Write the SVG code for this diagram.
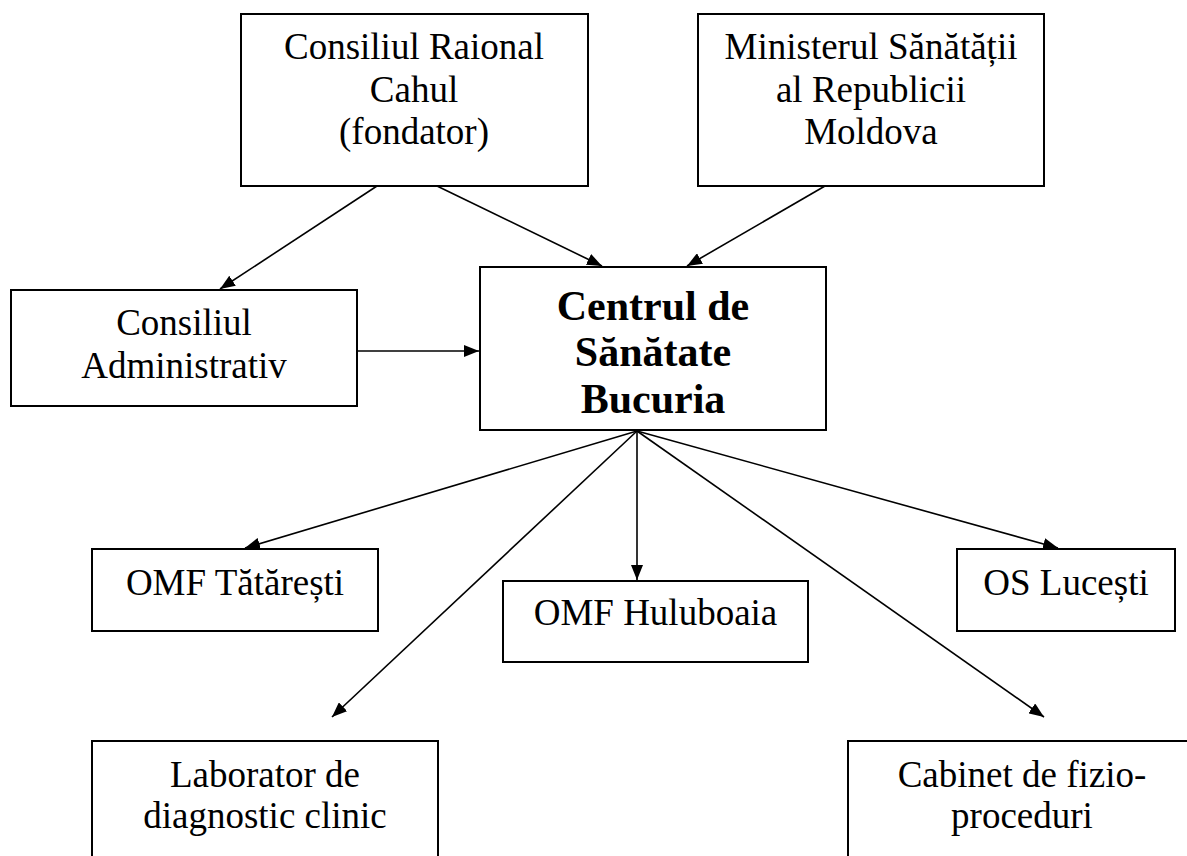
<svg xmlns="http://www.w3.org/2000/svg" width="1187" height="856" viewBox="0 0 1187 856">
<style>
.box{fill:#fff;stroke:#000;stroke-width:2}
.t{font-family:"Liberation Serif","Times New Roman",serif;font-size:37px;fill:#000;text-anchor:middle}
.b{font-family:"Liberation Serif","Times New Roman",serif;font-size:42px;font-weight:bold;fill:#000;text-anchor:middle}
.c{stroke:#000;stroke-width:1.6;fill:none;marker-end:url(#ah)}
</style>
<defs>
<marker id="ah" markerUnits="userSpaceOnUse" markerWidth="16" markerHeight="12" refX="15" refY="6" orient="auto">
<path d="M0,0 L15,6 L0,12 z" fill="#000"/>
</marker>
</defs>
<rect width="1187" height="856" fill="#fff"/>
<g id="connectors">
<line class="c" x1="377" y1="186" x2="220" y2="289"/>
<line class="c" x1="437" y1="186" x2="602" y2="266"/>
<line class="c" x1="825" y1="186" x2="687" y2="266"/>
<line class="c" x1="357" y1="351" x2="479" y2="351"/>
<line class="c" x1="637" y1="431" x2="245" y2="548"/>
<line class="c" x1="637" y1="431" x2="637" y2="580"/>
<line class="c" x1="637" y1="431" x2="1058" y2="548"/>
<line class="c" x1="637" y1="431" x2="332" y2="717"/>
<line class="c" x1="637" y1="431" x2="1044" y2="717"/>
</g>
<g id="n-raional">
<rect class="box" x="241" y="14" width="347" height="172"/>
<text class="t" x="414" y="59">Consiliul Raional</text>
<text class="t" x="414" y="102">Cahul</text>
<text class="t" x="414" y="144">(fondator)</text>
</g>
<g id="n-minister">
<rect class="box" x="698" y="14" width="346" height="172"/>
<text class="t" x="871" y="59">Ministerul Sănătății</text>
<text class="t" x="871" y="102">al Republicii</text>
<text class="t" x="871" y="144">Moldova</text>
</g>
<g id="n-admin">
<rect class="box" x="11" y="290" width="346" height="116"/>
<text class="t" x="184" y="335">Consiliul</text>
<text class="t" x="184" y="378">Administrativ</text>
</g>
<g id="n-centru">
<rect class="box" x="480" y="267" width="346" height="163"/>
<text class="b" x="653" y="320">Centrul de</text>
<text class="b" x="653" y="366">Sănătate</text>
<text class="b" x="653" y="413">Bucuria</text>
</g>
<g id="n-tataresti">
<rect class="box" x="92" y="549" width="286" height="82"/>
<text class="t" x="235" y="595">OMF Tătărești</text>
</g>
<g id="n-huluboaia">
<rect class="box" x="503" y="581" width="305" height="81"/>
<text class="t" x="655.5" y="625">OMF Huluboaia</text>
</g>
<g id="n-lucesti">
<rect class="box" x="957" y="549" width="218" height="82"/>
<text class="t" x="1066" y="595">OS Lucești</text>
</g>
<g id="n-laborator">
<rect class="box" x="92" y="741" width="346" height="130"/>
<text class="t" x="265" y="787">Laborator de</text>
<text class="t" x="265" y="828">diagnostic clinic</text>
</g>
<g id="n-cabinet">
<rect class="box" x="848" y="741" width="348" height="130"/>
<text class="t" x="1022" y="787">Cabinet de fizio-</text>
<text class="t" x="1022" y="828">proceduri</text>
</g>
</svg>
